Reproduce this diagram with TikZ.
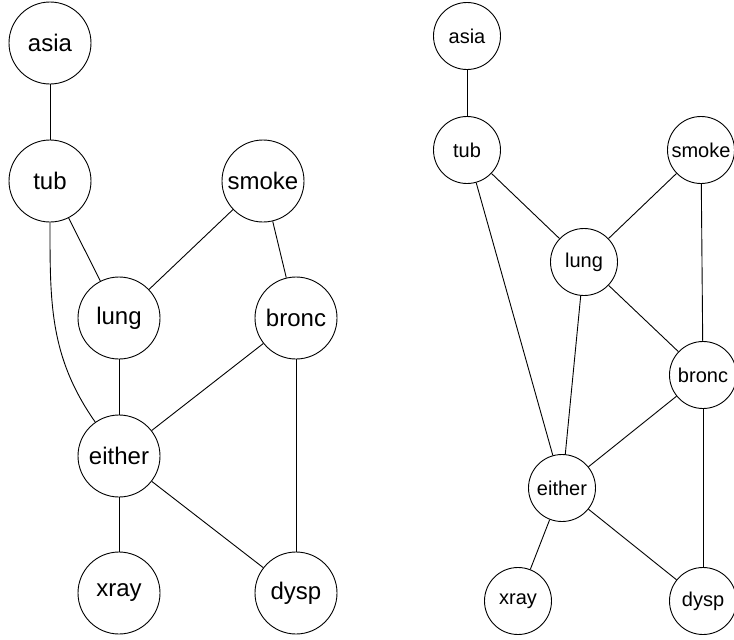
\documentclass[tikz,border=0pt]{standalone}
\usepackage{fontspec}
\setmainfont{Liberation Sans}
\tikzset{
	bignode/.style={draw, circle, line width=0.9pt, minimum size=82pt, inner sep=0pt, font=\fontsize{24}{28}\selectfont},
	smallnode/.style={draw, circle, line width=0.9pt, minimum size=67pt, inner sep=0pt, font=\fontsize{20}{24}\selectfont},
	edge/.style={line width=0.9pt}
}
\begin{document}
\begin{tikzpicture}[x=1pt, y=-1pt]
			\useasboundingbox (0,0) rectangle (734,640);
			
			% left graph
			\node[bignode] (asiaL) at (50, 43) {asia};
			\node[bignode] (tubL) at (50, 181) {tub};
			\node[bignode] (smokeL) at (263, 181) {smoke};
			\node[bignode] (lungL) at (119, 318) {lung};
			\node[bignode] (broncL) at (296, 318) {bronc};
			\node[bignode] (eitherL) at (119, 456) {either};
			\node[bignode] (xrayL) at (119, 593) {xray};
			\node[bignode] (dyspL) at (296, 593) {dysp};
			
			\draw[edge] (asiaL) -- (tubL);
			\draw[edge] (tubL) -- (lungL);
			\draw[edge] (tubL) to[out=-90, in=125] (eitherL);
			\draw[edge] (smokeL) -- (lungL);
			\draw[edge] (smokeL) -- (broncL);
			\draw[edge] (lungL) -- (eitherL);
			\draw[edge] (broncL) -- (eitherL);
			\draw[edge] (broncL) -- (dyspL);
			\draw[edge] (eitherL) -- (xrayL);
			\draw[edge] (eitherL) -- (dyspL);
			
			% right graph
			\node[smallnode] (asiaR) at (467, 36) {asia};
			\node[smallnode] (tubR) at (467, 150) {tub};
			\node[smallnode] (smokeR) at (701, 150) {smoke};
			\node[smallnode] (lungR) at (584, 262) {lung};
			\node[smallnode] (broncR) at (703, 375) {bronc};
			\node[smallnode] (eitherR) at (562, 488) {either};
			\node[smallnode] (xrayR) at (518, 601) {xray};
			\node[smallnode] (dyspR) at (703, 601) {dysp};
			
			\draw[edge] (asiaR) -- (tubR);
			\draw[edge] (tubR) -- (lungR);
			\draw[edge] (tubR) -- (eitherR);
			\draw[edge] (smokeR) -- (lungR);
			\draw[edge] (smokeR) -- (broncR);
			\draw[edge] (lungR) -- (broncR);
			\draw[edge] (lungR) -- (eitherR);
			\draw[edge] (broncR) -- (eitherR);
			\draw[edge] (broncR) -- (dyspR);
			\draw[edge] (eitherR) -- (xrayR);
			\draw[edge] (eitherR) -- (dyspR);
\end{tikzpicture}
\end{document}
